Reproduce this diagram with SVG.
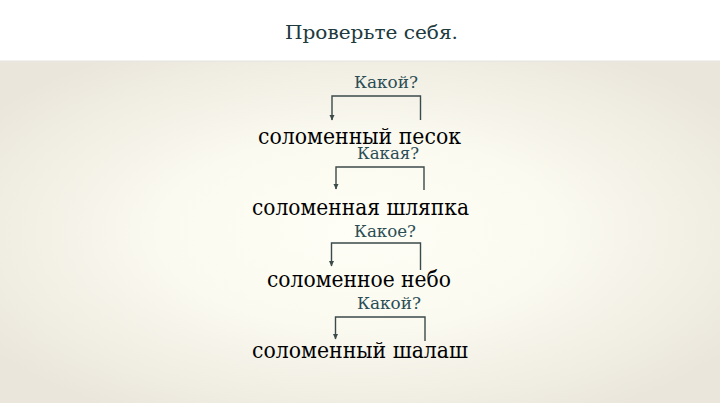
<svg xmlns="http://www.w3.org/2000/svg" width="720" height="405" viewBox="0 0 720 405">
<defs>
<radialGradient id="bg" cx="50%" cy="50%" r="62%">
<stop offset="0" stop-color="#fefef6"/>
<stop offset="0.45" stop-color="#fbfaf0"/>
<stop offset="1" stop-color="#eae6db"/>
</radialGradient>
<marker id="ah" markerWidth="6" markerHeight="7" refX="3" refY="6" orient="0" markerUnits="userSpaceOnUse" viewBox="0 0 6 7">
<path d="M0.5,1 L5.5,1 L3,6.5 Z" fill="#3b4a4a"/>
</marker>
<style>
.title{font-family:"DejaVu Serif","Liberation Serif",serif;font-size:18px;fill:#203a3d}
.q{font-family:"DejaVu Serif","Liberation Serif",serif;font-size:16px;fill:#2b4d54}
.w{font-family:"DejaVu Serif","Liberation Serif",serif;font-size:22px;fill:#000}
.c{fill:none;stroke:#3b4a4a;stroke-width:1.4}
</style>
</defs>
<rect x="0" y="0" width="720" height="405" fill="#ffffff"/>
<rect x="0" y="61" width="720" height="342" fill="url(#bg)"/>
<line x1="0" y1="61" x2="720" y2="61" stroke="#e4e4e0" stroke-width="1"/>
<text class="title" x="285" y="39" textLength="173" lengthAdjust="spacingAndGlyphs">Проверьте себя.</text>
<g id="connectors">
<path class="c" d="M420.5,120 V96 H332 V120" marker-end="url(#ah)"/>
<path class="c" d="M424,190 V167 H336 V189" marker-end="url(#ah)"/>
<path class="c" d="M420.5,270 V243 H331.5 V266" marker-end="url(#ah)"/>
<path class="c" d="M425,341 V317 H335.5 V339" marker-end="url(#ah)"/>
</g>
<g id="n1">
<text class="q" x="354" y="88" textLength="64" lengthAdjust="spacingAndGlyphs">Какой?</text>
<text class="w" x="258" y="144" textLength="203" lengthAdjust="spacingAndGlyphs">соломенный песок</text>
</g>
<g id="n2">
<text class="q" x="357" y="159" textLength="62" lengthAdjust="spacingAndGlyphs">Какая?</text>
<text class="w" x="252" y="215" textLength="217" lengthAdjust="spacingAndGlyphs">соломенная шляпка</text>
</g>
<g id="n3">
<text class="q" x="354" y="237" textLength="62" lengthAdjust="spacingAndGlyphs">Какое?</text>
<text class="w" x="267" y="287" textLength="184" lengthAdjust="spacingAndGlyphs">соломенное небо</text>
</g>
<g id="n4">
<text class="q" x="357" y="309" textLength="64" lengthAdjust="spacingAndGlyphs">Какой?</text>
<text class="w" x="252" y="358" textLength="216" lengthAdjust="spacingAndGlyphs">соломенный шалаш</text>
</g>
</svg>
